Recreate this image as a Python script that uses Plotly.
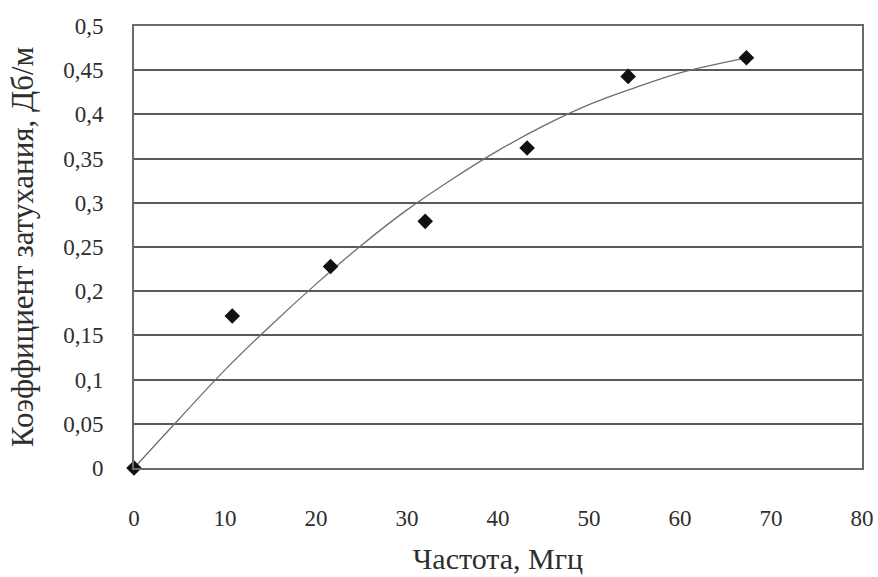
import plotly.graph_objects as go

# measured points
freq = [0, 10.8, 21.6, 32.0, 43.2, 54.3, 67.3]
atten = [0, 0.172, 0.228, 0.279, 0.362, 0.443, 0.464]

# trend line
trend_x = [0, 5, 10, 15, 20, 25, 30, 35, 40, 45, 50, 55, 60, 67.3]
trend_y = [0, 0.056, 0.111, 0.161, 0.208, 0.252, 0.292, 0.327, 0.359, 0.387, 0.411, 0.430, 0.447, 0.464]

y_ticks = [0, 0.05, 0.1, 0.15, 0.2, 0.25, 0.3, 0.35, 0.4, 0.45, 0.5]
y_tick_labels = ["0", "0,05", "0,1", "0,15", "0,2", "0,25", "0,3", "0,35", "0,4", "0,45", "0,5"]
x_ticks = [0, 10, 20, 30, 40, 50, 60, 70, 80]
x_tick_labels = ["0", "10", "20", "30", "40", "50", "60", "70", "80"]

font_family = "'Liberation Serif', 'Times New Roman', serif"
text_color = "#2e2e2e"

fig = go.Figure()
fig.add_trace(go.Scatter(
    x=trend_x, y=trend_y, mode="lines", line=dict(color="#6e6e6e", width=1.3, shape="spline"),
    hoverinfo="skip", showlegend=False))
fig.add_trace(go.Scatter(
    x=freq, y=atten, mode="markers",
    marker=dict(symbol="diamond", size=12, color="#111111"),
    showlegend=False, cliponaxis=False))

fig.update_layout(
    width=878, height=577,
    margin=dict(l=134, r=16, t=26, b=109),
    paper_bgcolor="white", plot_bgcolor="white",
    font=dict(family=font_family, color=text_color, size=23),
    xaxis=dict(
        range=[0, 80], tickvals=x_ticks, ticktext=x_tick_labels,
        showgrid=False, zeroline=False, automargin=False,
        showline=True, linecolor="#6a6a6a", linewidth=2, mirror=True,
        ticks="", ticklen=0, ticklabelstandoff=28,
        tickfont=dict(family=font_family, size=23, color=text_color),
        title=dict(text="Частота, Мгц", font=dict(size=30, family=font_family, color=text_color), standoff=18),
    ),
    yaxis=dict(
        range=[0, 0.5], tickvals=y_ticks, ticktext=y_tick_labels,
        showgrid=True, gridcolor="#5a5a5a", gridwidth=1.5, zeroline=False, automargin=False,
        showline=True, linecolor="#6a6a6a", linewidth=2, mirror=True,
        ticks="", ticklen=0, ticklabelstandoff=24,
        tickfont=dict(family=font_family, size=23, color=text_color),
        title=dict(text="Коэффициент затухания, Дб/м", font=dict(size=31, family=font_family, color=text_color), standoff=20),
    ),
)

fig.write_html("out.html", config={"displayModeBar": False},
               post_script="document.body.style.margin='0';")
